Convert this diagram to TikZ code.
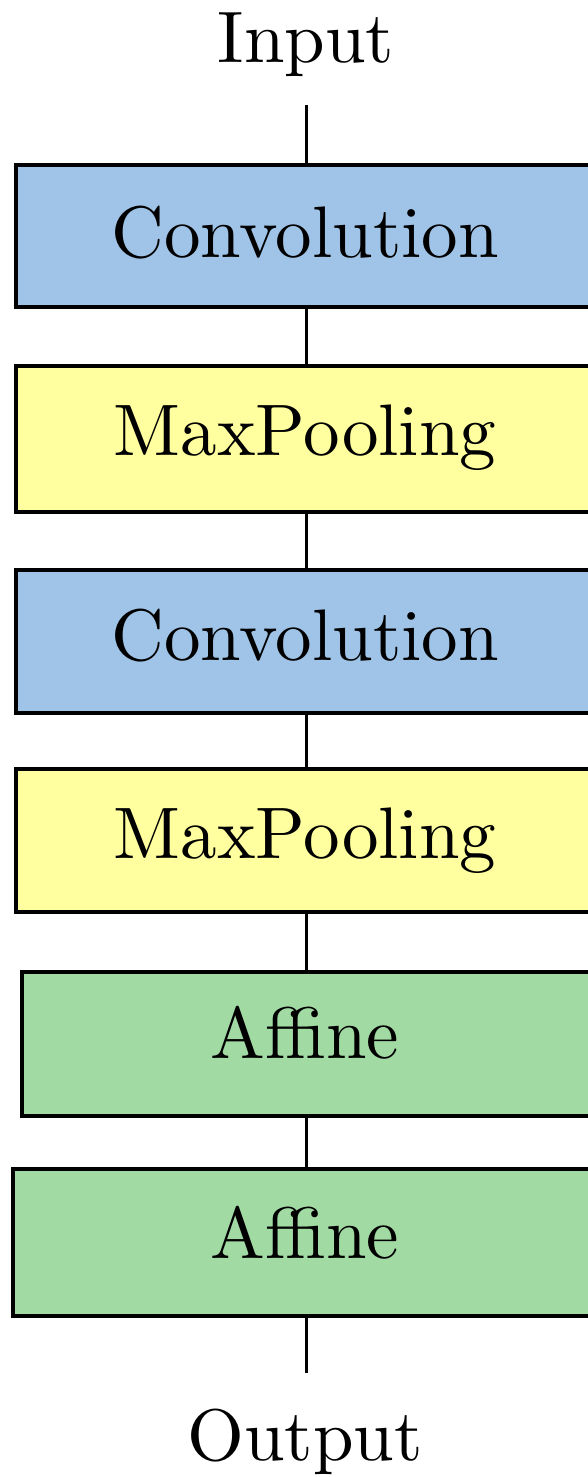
\documentclass[tikz,border=0pt]{standalone}
\usepackage{fontspec}
\setmainfont{lmroman10-regular.otf}
\definecolor{convblue}{RGB}{160,196,231}
\definecolor{poolyellow}{RGB}{255,255,160}
\definecolor{affgreen}{RGB}{162,218,164}
\begin{document}
\begin{tikzpicture}[x=1pt,y=-1pt,
  layer/.style={draw=black, line width=3.4pt, rectangle, inner sep=0pt},
  lbl/.style={anchor=base, inner sep=0pt, font=\fontsize{73}{80}\selectfont},
  link/.style={draw=black, line width=3pt}]
  \useasboundingbox (0,0) rectangle (588,1477);
  \coordinate (axis) at (306,0);

  % layer boxes (they run off the right edge)
  \node[layer, fill=convblue,   minimum width=594pt, minimum height=142pt] (c1) at (313,236) {};
  \node[layer, fill=poolyellow, minimum width=594pt, minimum height=146pt] (p1) at (313,439) {};
  \node[layer, fill=convblue,   minimum width=594pt, minimum height=143pt] (c2) at (313,641.5) {};
  \node[layer, fill=poolyellow, minimum width=594pt, minimum height=143pt] (p2) at (313,840.5) {};
  \node[layer, fill=affgreen,   minimum width=588pt, minimum height=144pt] (a1) at (316,1044) {};
  \node[layer, fill=affgreen,   minimum width=597pt, minimum height=147pt] (a2) at (311.5,1242.5) {};

  % labels
  \node[lbl] (tin)  at (306,63)   {Input};
  \node[lbl] (tc1)  at (305,257)  {Convolution};
  \node[lbl] (tp1)  at (305,455)  {MaxPooling};
  \node[lbl] (tc2)  at (305,660)  {Convolution};
  \node[lbl] (tp2)  at (305,858)  {MaxPooling};
  \node[lbl] (ta1)  at (305,1058) {Affine};
  \node[lbl] (ta2)  at (305,1258) {Affine};
  \node[lbl] (tout) at (305,1460) {Output};

  % connectors
  \coordinate (inend)  at (306,105);
  \coordinate (outend) at (306,1373);
  \draw[link] (inend) -- (c1.north -| axis);
  \draw[link] (c1.south -| axis) -- (p1.north -| axis);
  \draw[link] (p1.south -| axis) -- (c2.north -| axis);
  \draw[link] (c2.south -| axis) -- (p2.north -| axis);
  \draw[link] (p2.south -| axis) -- (a1.north -| axis);
  \draw[link] (a1.south -| axis) -- (a2.north -| axis);
  \draw[link] (a2.south -| axis) -- (outend);
\end{tikzpicture}
\end{document}
